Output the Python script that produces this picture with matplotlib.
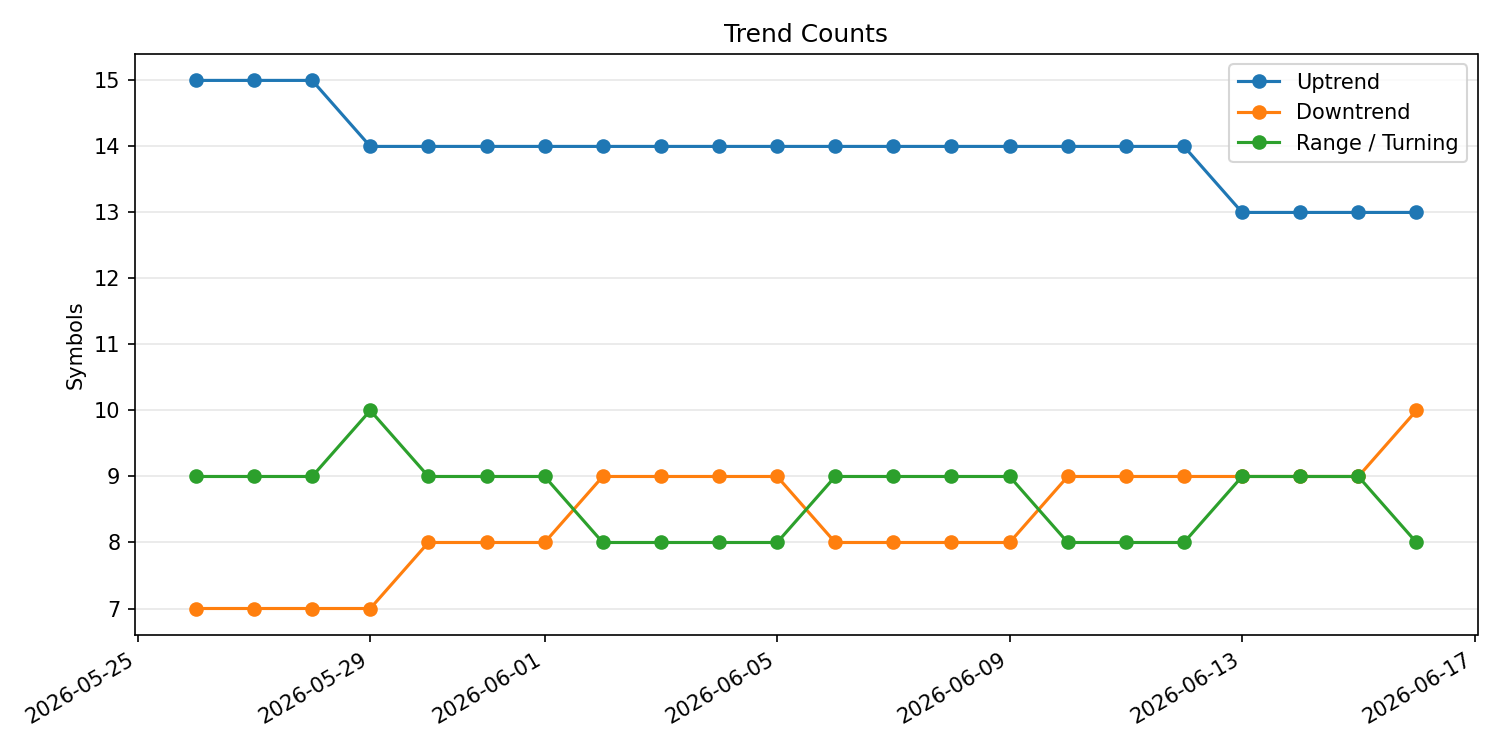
import pandas as pd
import matplotlib
matplotlib.use("Agg")
import matplotlib.pyplot as plt

dates = pd.date_range("2026-05-26", "2026-06-16", freq="D")

uptrend = [15, 15, 15, 14, 14, 14, 14, 14, 14, 14, 14,
           14, 14, 14, 14, 14, 14, 14, 13, 13, 13, 13]
downtrend = [7, 7, 7, 7, 8, 8, 8, 9, 9, 9, 9,
             8, 8, 8, 8, 9, 9, 9, 9, 9, 9, 10]
range_turning = [9, 9, 9, 10, 9, 9, 9, 8, 8, 8, 8,
                 9, 9, 9, 9, 8, 8, 8, 9, 9, 9, 8]

fig, ax = plt.subplots(figsize=(10, 5), dpi=150)
ax.plot(dates, uptrend, marker="o", label="Uptrend")
ax.plot(dates, downtrend, marker="o", label="Downtrend")
ax.plot(dates, range_turning, marker="o", label="Range / Turning")

ax.set_title("Trend Counts")
ax.set_ylabel("Symbols")
ax.grid(axis="y", alpha=0.3)
ax.legend(loc="upper right")
fig.autofmt_xdate()
fig.tight_layout()
fig.savefig("out.png")
